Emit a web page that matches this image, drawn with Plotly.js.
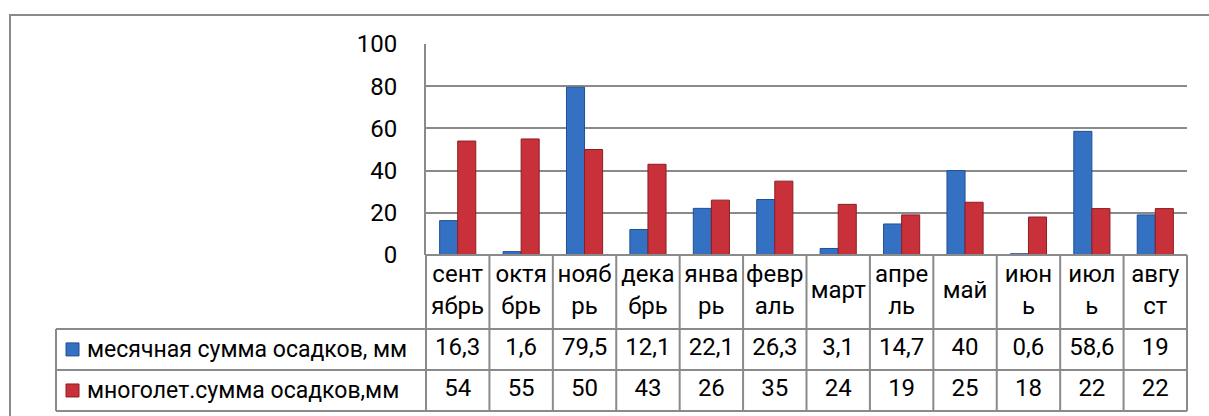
<!DOCTYPE html>
<html><head><meta charset="utf-8">
<script src="https://cdn.plot.ly/plotly-3.0.1.min.js"></script>
<style>html,body{margin:0;padding:0;background:#fff}#chart{width:1209px;height:416px}</style>
</head><body><div id="chart"></div>
<script>
// ---- data ----
const months = ['сентябрь','октябрь','ноябрь','декабрь','январь','февраль','март','апрель','май','июнь','июль','август'];
const monthLabels = ['сент<br>ябрь','октя<br>брь','нояб<br>рь','дека<br>брь','янва<br>рь','февр<br>аль','март','апре<br>ль','май','июн<br>ь','июл<br>ь','авгу<br>ст'];
const monthly = [16.3, 1.6, 79.5, 12.1, 22.1, 26.3, 3.1, 14.7, 40, 0.6, 58.6, 19];
const longTerm = [54, 55, 50, 43, 26, 35, 24, 19, 25, 18, 22, 22];
const seriesNames = ['месячная сумма осадков, мм', 'многолет.сумма осадков,мм'];
const yTicks = [0, 20, 40, 60, 80, 100];

// ---- layout constants ----
const W = 1209, H = 416;
const L = 426, R = 22, T = 44, B = 5;
const plotW = W - L - R, plotH = H - T - B;
const tableTopPx = 255;
const D = (H - B - tableTopPx) / plotH;        // split between bars and table
const rowBounds = [0, 1.8, 2.8, 3.8];          // table rows in y2 units (top->bottom)
const rowMid = [0.9, 2.3, 3.3];
const FONT = 'Roboto, "Noto Sans", sans-serif';
const FS = 24;
const lineCol = '#8a8a8a';
const blue = '#3571c2', red = '#c8313a';

const px = v => (v - L) / plotW;                          // x pixel -> paper
const py = v => (H - B - v) / plotH;                      // y pixel -> paper
const rowY = u => D * (1 - u / rowBounds[3]);             // y2 units -> paper
const fmt = v => String(v).replace('.', ',');
const N = months.length;

const traces = [
  {type:'bar', name:seriesNames[0], x:months, y:monthly, xaxis:'x', yaxis:'y',
   marker:{color:blue, line:{color:'#1f4f93', width:1}}},
  {type:'bar', name:seriesNames[1], x:months, y:longTerm, xaxis:'x', yaxis:'y',
   marker:{color:red, line:{color:'#8e1d22', width:1}}},
  {type:'scatter', mode:'text', x:months, y:months.map(()=>rowMid[0]), text:monthLabels,
   xaxis:'x', yaxis:'y2', textfont:{family:FONT, size:FS, color:'#000'}, cliponaxis:false, hoverinfo:'skip'},
  {type:'scatter', mode:'text', x:months, y:months.map(()=>rowMid[1]), text:monthly.map(fmt),
   xaxis:'x', yaxis:'y2', textfont:{family:FONT, size:FS, color:'#000'}, cliponaxis:false, hoverinfo:'skip'},
  {type:'scatter', mode:'text', x:months, y:months.map(()=>rowMid[2]), text:longTerm.map(fmt),
   xaxis:'x', yaxis:'y2', textfont:{family:FONT, size:FS, color:'#000'}, cliponaxis:false, hoverinfo:'skip'}
];

const shapes = [];
const ln = (x0,y0,x1,y1) => shapes.push({type:'line', xref:'paper', yref:'paper', x0, y0, x1, y1,
  line:{color:lineCol, width:2}, layer:'above'});
// outer chart border
shapes.push({type:'rect', xref:'paper', yref:'paper', x0:px(10), x1:px(1230), y0:py(15), y1:py(430),
  line:{color:lineCol, width:2}, layer:'below'});
// table verticals
for (let i = 0; i <= N; i++) ln(i / N, rowY(rowBounds[0]), i / N, rowY(rowBounds[3]));
// table horizontals
ln(0, rowY(rowBounds[0]), 1, rowY(rowBounds[0]));
for (let r = 1; r < rowBounds.length; r++) ln(px(56), rowY(rowBounds[r]), 1, rowY(rowBounds[r]));
// legend cell left edge
ln(px(56), rowY(rowBounds[1]), px(56), rowY(rowBounds[3]));
// legend keys
[blue, red].forEach((c, k) => {
  const yc = rowY(rowMid[k + 1]);
  const h = 13 / plotH, w = 13 / plotW;
  shapes.push({type:'rect', xref:'paper', yref:'paper', x0:px(66), x1:px(66) + w, y0:yc - h/2, y1:yc + h/2,
    fillcolor:c, line:{color:k ? '#8e1d22' : '#1f4f93', width:1}, layer:'above'});
});

const annotations = seriesNames.map((s, k) => ({
  xref:'paper', yref:'y2', x:px(85), y:rowMid[k + 1], xanchor:'left', yanchor:'middle',
  text:s, showarrow:false, font:{family:FONT, size:23, color:'#000'}
}));

const layout = {
  width:W, height:H, margin:{l:L, r:R, t:T, b:B},
  paper_bgcolor:'#fff', plot_bgcolor:'rgba(0,0,0,0)',
  showlegend:false, barmode:'group', bargap:0.43, bargroupgap:0,
  font:{family:FONT, size:FS, color:'#000'},
  xaxis:{type:'category', range:[-0.5, N - 0.5], showticklabels:false, showgrid:false,
         zeroline:false, showline:false, ticks:'', anchor:'y', fixedrange:true},
  yaxis:{domain:[D, 1], range:[0, 100], tickvals:yTicks, showgrid:true, gridcolor:lineCol, gridwidth:2,
         showline:true, linecolor:lineCol, linewidth:2, zeroline:false, ticks:'',
         ticklabelstandoff:22, tickfont:{family:FONT, size:FS, color:'#000'}, fixedrange:true},
  yaxis2:{domain:[0, D], range:[rowBounds[3], 0], visible:false, anchor:'x', fixedrange:true},
  shapes, annotations
};

Plotly.newPlot('chart', traces, layout, {displayModeBar:false, staticPlot:true});
</script></body></html>
